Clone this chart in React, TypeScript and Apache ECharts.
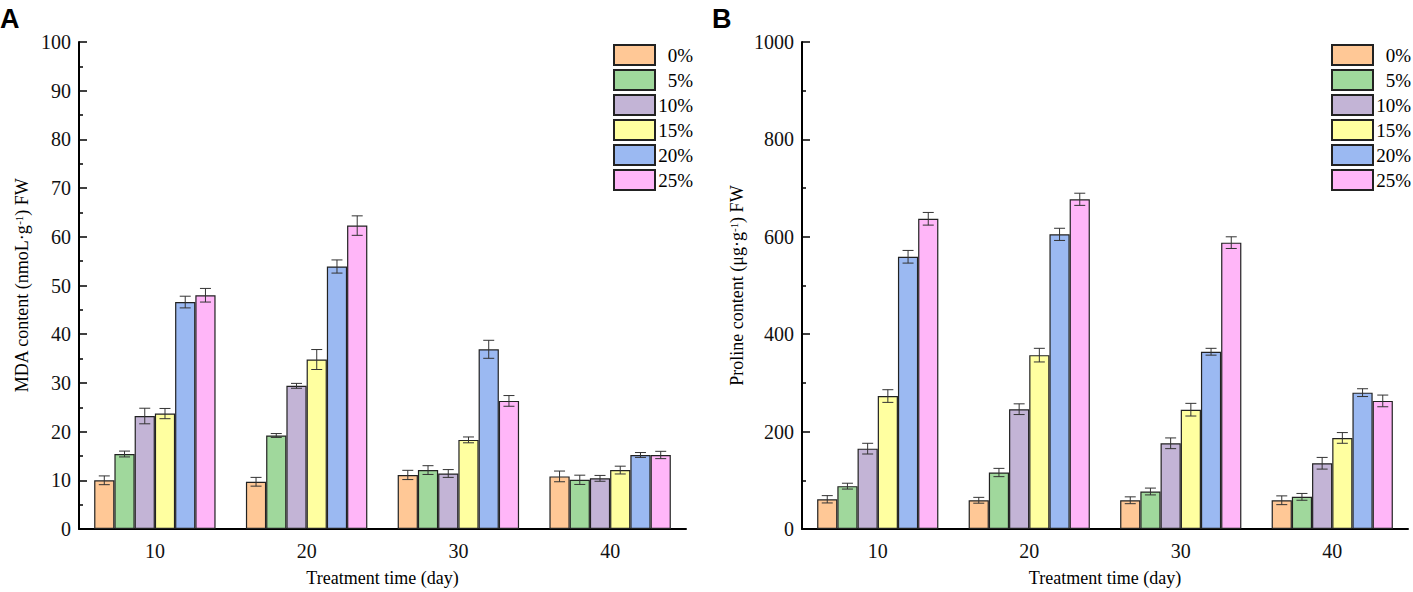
import { useEffect, useRef } from 'react';
import * as echarts from 'echarts';

const days = ['10', '20', '30', '40'];
const levels = ['0%', '5%', '10%', '15%', '20%', '25%'];
const colors = ['#FFC896', '#A0D89C', '#C3B4D6', '#FFFFA0', '#9BB9F2', '#FFB6F8'];

// one row per level, one value per day
const mdaMeans = [
  [10.0, 9.7, 11.1, 10.8],
  [15.4, 19.2, 12.1, 10.1],
  [23.2, 29.4, 11.4, 10.4],
  [23.7, 34.8, 18.3, 12.1],
  [46.6, 53.9, 36.9, 15.2],
  [48.0, 62.3, 26.3, 15.2],
];
const mdaErrors = [
  [0.9, 0.9, 0.95, 1.1],
  [0.6, 0.4, 0.9, 0.95],
  [1.6, 0.5, 0.8, 0.6],
  [1.05, 2.05, 0.6, 0.8],
  [1.2, 1.35, 1.85, 0.5],
  [1.4, 2.0, 1.1, 0.75],
];
const prolineMeans = [
  [61, 59, 59, 59],
  [88, 116, 77, 66],
  [165, 246, 176, 135],
  [273, 357, 245, 187],
  [559, 605, 364, 280],
  [637, 677, 588, 263],
];
const prolineErrors = [
  [7.5, 6, 7, 9],
  [6, 8.5, 7, 7],
  [11, 11, 11, 12],
  [13, 14, 13, 11],
  [13, 12.5, 7, 8],
  [13, 12.5, 12, 12],
];

const serif = 'Liberation Serif, serif';

const barSeries = (axis: number, means: number[][]) =>
  levels.map((name, i) => ({
    name,
    type: 'bar',
    xAxisIndex: axis,
    yAxisIndex: axis,
    barGap: '0%',
    barCategoryGap: '20%',
    itemStyle: { color: colors[i], borderColor: '#222', borderWidth: 1.2 },
    data: means[i],
  }));

const errorSeries = (axis: number, means: number[][], errors: number[][]) => ({
  type: 'custom',
  xAxisIndex: axis,
  yAxisIndex: axis,
  silent: true,
  z: 10,
  encode: { x: 0, y: 1 },
  data: means.flatMap((row, s) => row.map((v, d) => [d, v, errors[s][d], s])),
  renderItem: (params: any, api: any) => {
    const d = api.value(0);
    const v = api.value(1);
    const e = api.value(2);
    const s = api.value(3);
    const band = api.size([1, 0])[0];
    const barW = (band * 0.8) / levels.length;
    const cx = api.coord([d, v])[0] - band * 0.4 + barW * (s + 0.5);
    const top = api.coord([d, v + e])[1];
    const bot = api.coord([d, v - e])[1];
    const cap = 5.5;
    const style = { stroke: '#333', lineWidth: 1 };
    return {
      type: 'group',
      children: [
        { type: 'line', shape: { x1: cx, y1: top, x2: cx, y2: bot }, style },
        { type: 'line', shape: { x1: cx - cap, y1: top, x2: cx + cap, y2: top }, style },
        { type: 'line', shape: { x1: cx - cap, y1: bot, x2: cx + cap, y2: bot }, style },
      ],
    };
  },
});

const xAxis = (gridIndex: number) => ({
  type: 'category',
  gridIndex,
  data: days,
  name: 'Treatment time (day)',
  nameLocation: 'middle',
  nameGap: 40,
  nameTextStyle: { fontFamily: serif, fontSize: 18, color: '#000' },
  axisLine: { lineStyle: { color: '#000', width: 2 } },
  axisTick: { inside: true, length: 4, interval: 0, lineStyle: { color: '#000', width: 1.5 } },
  axisLabel: { fontFamily: serif, fontSize: 20, color: '#111', margin: 12 },
});

const yAxis = (gridIndex: number, max: number, interval: number, label: string, nameGap: number) => ({
  type: 'value',
  gridIndex,
  min: 0,
  max,
  interval,
  name: `{a|${label}}{s|-1}{a|) FW}`,
  nameLocation: 'middle',
  nameGap,
  nameTextStyle: {
    fontFamily: serif,
    fontSize: 18,
    color: '#000',
    rich: {
      a: { fontFamily: serif, fontSize: 18, color: '#000' },
      s: { fontFamily: serif, fontSize: 11, color: '#000', verticalAlign: 'top', padding: [0, 0, 4, 0] },
    },
  },
  axisLine: { show: true, lineStyle: { color: '#000', width: 2 } },
  axisTick: { show: true, inside: true, length: 8, lineStyle: { color: '#000', width: 1.5 } },
  minorTick: { show: true, splitNumber: 2, length: 4, lineStyle: { color: '#000', width: 1.5 } },
  splitLine: { show: false },
  axisLabel: {
    fontFamily: serif,
    fontSize: 20,
    color: '#111',
    margin: 8,
    formatter: (v: number) => String(v),
  },
});

const legend = (left: number) => ({
  left,
  top: 39,
  orient: 'vertical',
  icon: 'rect',
  itemWidth: 41,
  itemHeight: 20,
  itemGap: 3,
  data: levels,
  formatter: '{r|{name}}',
  textStyle: {
    fontFamily: serif,
    fontSize: 19,
    color: '#000',
    rich: { r: { width: 33, align: 'right', fontFamily: serif, fontSize: 19, color: '#000' } },
  },
});

export default function App() {
  const chartRef = useRef<HTMLDivElement>(null);

  useEffect(() => {
    if (!chartRef.current) return;
    const chart = echarts.init(chartRef.current, undefined, { renderer: 'svg' });

    const option = {
      animation: false,
      backgroundColor: '#fff',
      textStyle: { fontFamily: serif },
      graphic: [
        { type: 'text', left: 0, top: 5, style: { text: 'A', font: 'bold 27px Liberation Sans', fill: '#000' } },
        { type: 'text', left: 712, top: 5, style: { text: 'B', font: 'bold 27px Liberation Sans', fill: '#000' } },
      ],
      legend: [legend(608), legend(1326)],
      grid: [
        { left: 79, right: 727, top: 42, bottom: 62 },
        { left: 802, right: 5, top: 42, bottom: 62 },
      ],
      xAxis: [xAxis(0), xAxis(1)],
      yAxis: [
        yAxis(0, 100, 10, 'MDA content (nmoL·g', 48),
        yAxis(1, 1000, 200, 'Proline content (μg·g', 56),
      ],
      series: [
        ...barSeries(0, mdaMeans),
        ...barSeries(1, prolineMeans),
        errorSeries(0, mdaMeans, mdaErrors),
        errorSeries(1, prolineMeans, prolineErrors),
      ],
    };

    chart.setOption(option as any);

    return () => {
      chart.dispose();
    };
  }, []);

  return (
    <div
      ref={chartRef}
      style={{ position: 'absolute', left: 0, top: 0, width: 1413, height: 592 }}
    />
  );
}
